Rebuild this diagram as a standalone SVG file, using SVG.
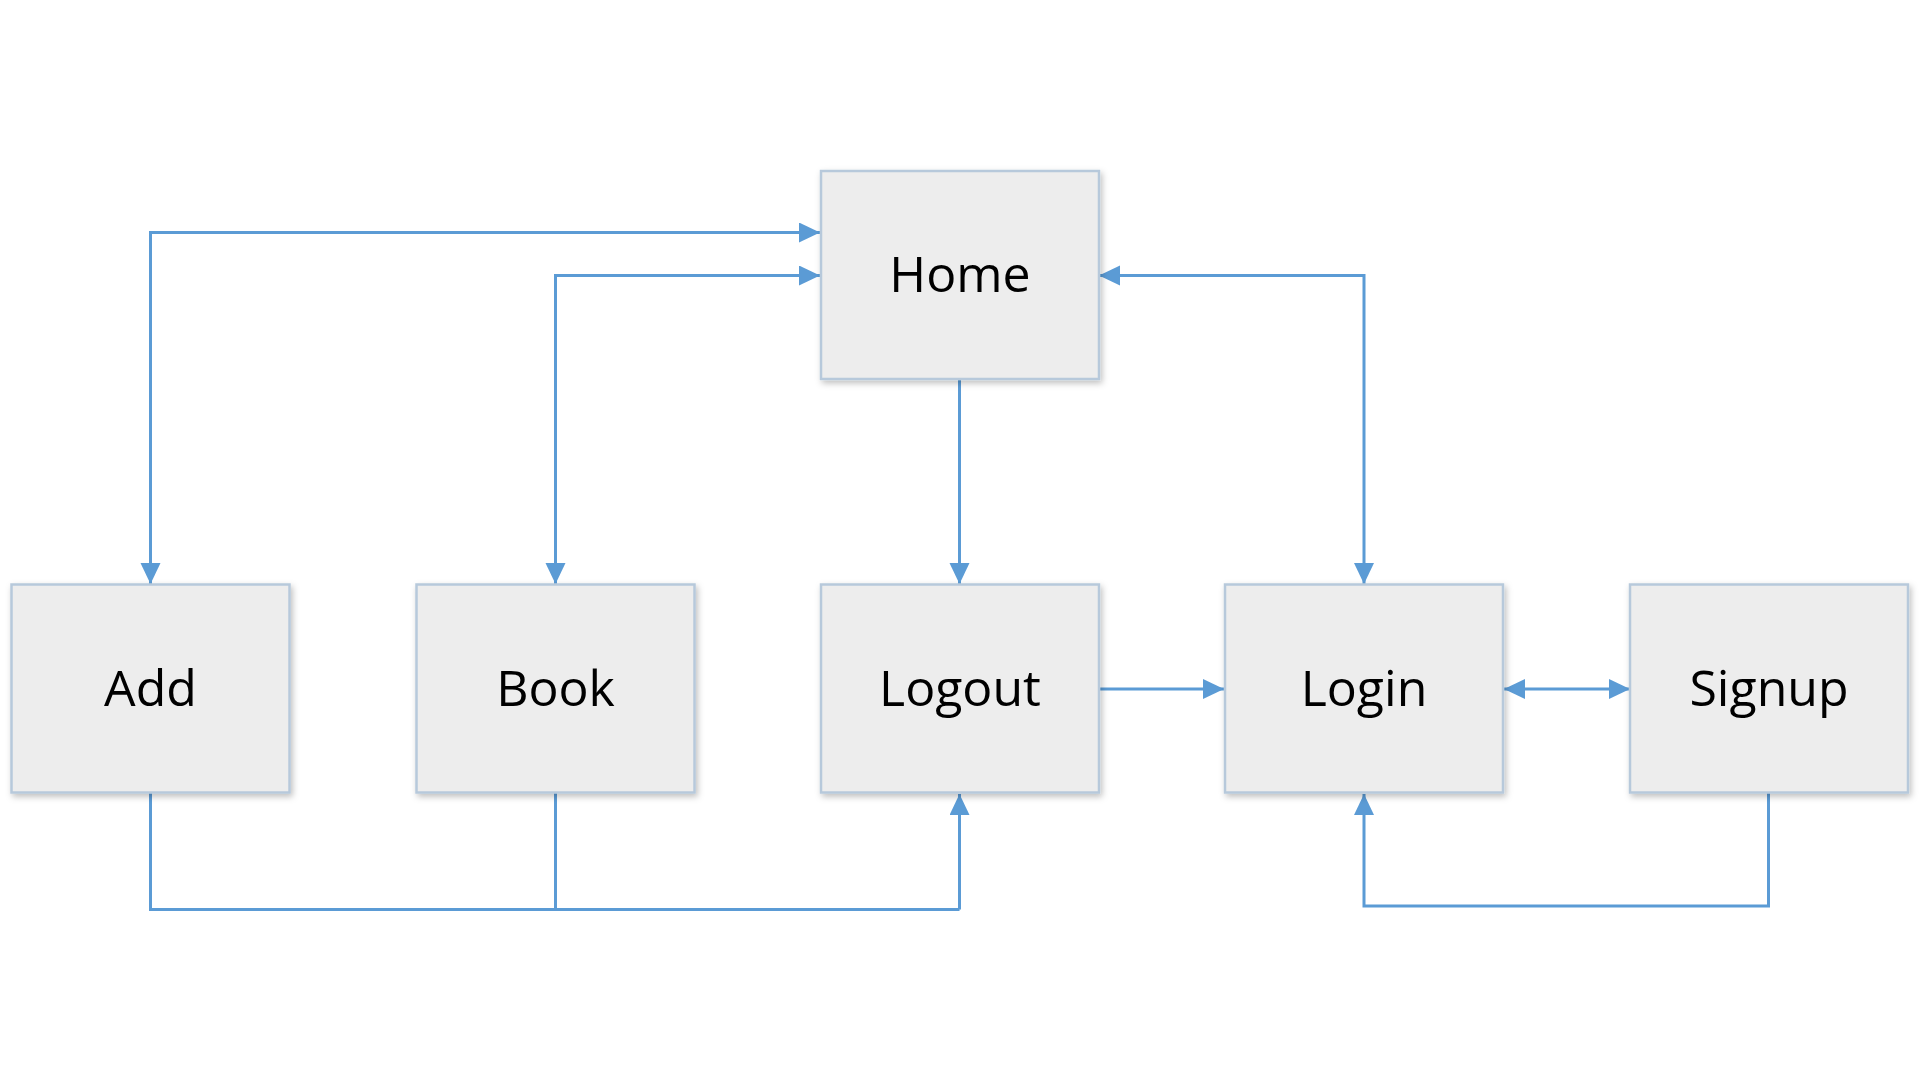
<svg xmlns="http://www.w3.org/2000/svg" width="1920" height="1080" viewBox="0 0 1920 1080">
<style>
.box{fill:#EDEDED;stroke:#B7C9DB;stroke-width:2.5;filter:url(#sh)}
.lbl{font-family:"Open Sans","Noto Sans",sans-serif;font-size:50px;fill:#000;text-anchor:middle;dominant-baseline:central}
.c{fill:none;stroke:#5B9BD5;stroke-width:3}
.a{marker-end:url(#ah)}
.b{marker-start:url(#ah);marker-end:url(#ah)}
</style>
<defs>
<marker id="ah" markerUnits="userSpaceOnUse" markerWidth="24" markerHeight="22" refX="21" refY="10" orient="auto-start-reverse"><path d="M0,0 L21,10 L0,20 z" fill="#5B9BD5"/></marker>
<filter id="sh" x="-10%" y="-10%" width="125%" height="125%"><feDropShadow dx="2" dy="3" stdDeviation="3" flood-color="#000" flood-opacity="0.25"/></filter>
</defs>
<rect width="1920" height="1080" fill="#fff"/>
<g id="connectors">
<path class="c b" d="M820,232.5 H150.5 V584"/>
<path class="c b" d="M820,275.5 H555.5 V584"/>
<path class="c b" d="M1099,275.5 H1364 V584"/>
<path class="c a" d="M959.5,380 V584"/>
<path class="c a" d="M1099,689 H1224"/>
<path class="c b" d="M1504,689 H1630"/>
<path class="c" d="M150.5,793 V909.5 H959.5"/>
<path class="c" d="M555.5,793 V909.5"/>
<path class="c a" d="M959.5,909.5 V794"/>
<path class="c a" d="M1768.5,793 V906 H1364 V794"/>
</g>
<g id="home"><rect class="box" x="821" y="171" width="278" height="208"/><text class="lbl" x="960" y="273">Home</text></g>
<g id="add"><rect class="box" x="11.5" y="584.5" width="278" height="208"/><text class="lbl" x="150.5" y="687">Add</text></g>
<g id="book"><rect class="box" x="416.5" y="584.5" width="278" height="208"/><text class="lbl" x="555.5" y="687">Book</text></g>
<g id="logout"><rect class="box" x="821" y="584.5" width="278" height="208"/><text class="lbl" x="960" y="687">Logout</text></g>
<g id="login"><rect class="box" x="1225" y="584.5" width="278" height="208"/><text class="lbl" x="1364" y="687">Login</text></g>
<g id="signup"><rect class="box" x="1630" y="584.5" width="278" height="208"/><text class="lbl" x="1769" y="687">Signup</text></g>
</svg>
